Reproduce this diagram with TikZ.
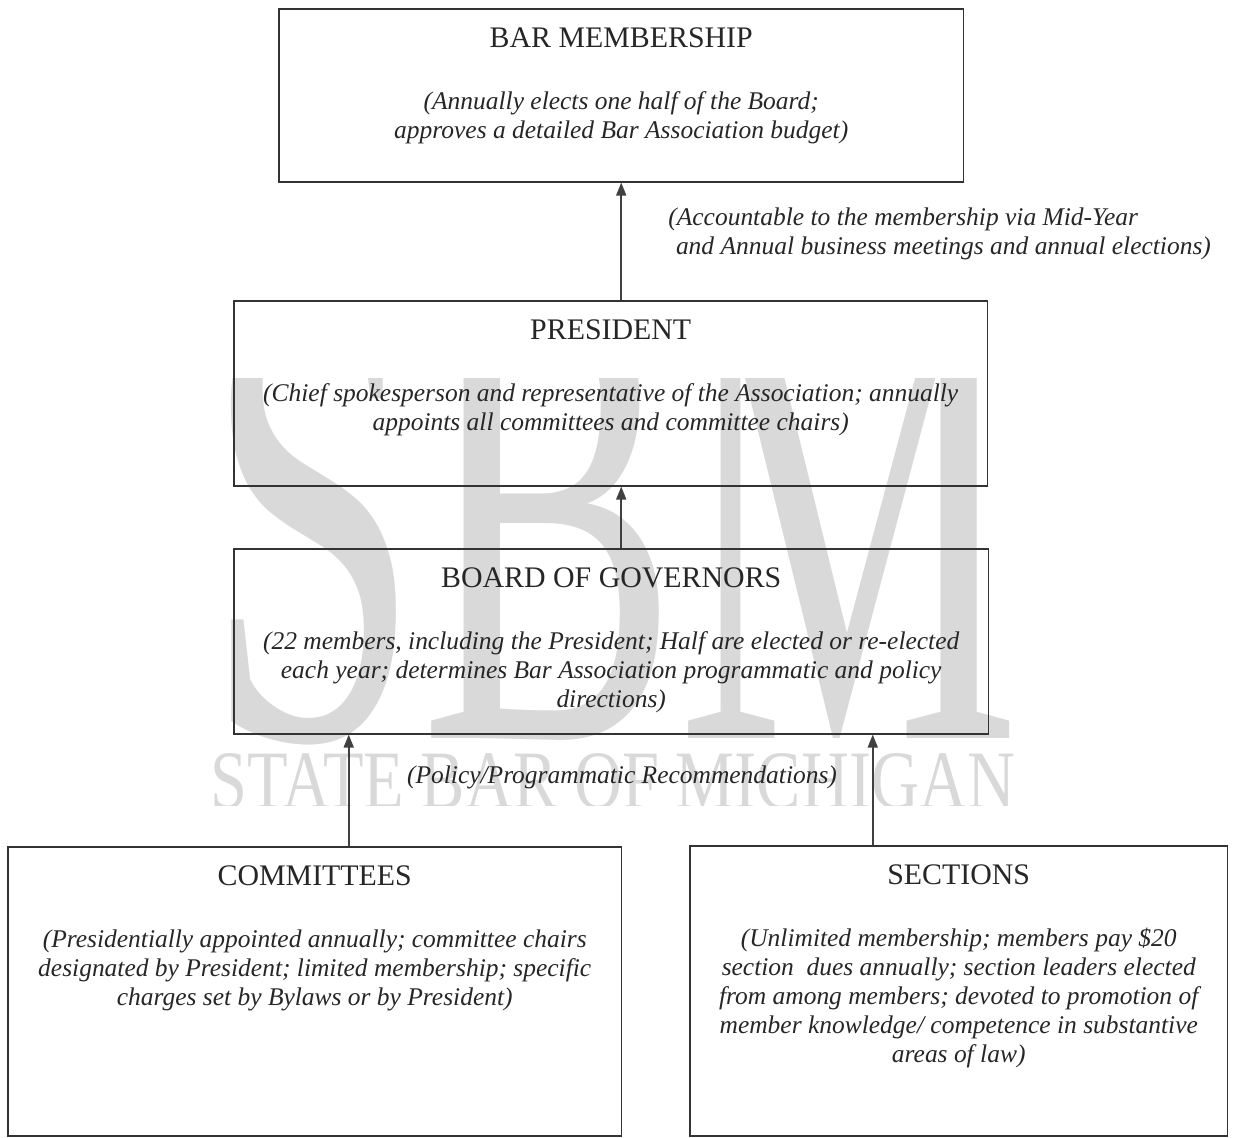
\documentclass[tikz,border=0pt]{standalone}
\usepackage{fontspec}
\setmainfont{Liberation Serif}
\usepackage{graphicx}
\usetikzlibrary{positioning,arrows.meta}

\newcommand{\ttlfont}{\fontsize{17}{20}\selectfont}
\newcommand{\descfont}{\fontsize{14.5}{16.5}\selectfont\itshape}
% box body: height, width, title, description
\newcommand{\orgbox}[4]{\parbox[c][#1][t]{#2}{\centering\vspace*{10.5pt}{\ttlfont #3\par}\vspace{19pt}{\descfont #4\par}}}

\begin{document}
\begin{tikzpicture}[
  x=0.02cm, y=-0.02cm,
  text=black!85,
  block/.style={draw=black!80, line width=0.9pt, inner sep=0pt, anchor=north west},
  arr/.style={-{Triangle[length=0.26cm, width=0.2cm]}, line width=0.9pt, draw=black!75},
  note/.style={font=\descfont, inner sep=0pt},
  wm/.style={text=black!15, inner sep=0pt, anchor=south west}
]
\useasboundingbox (0,0) rectangle (1233,1137);

% watermark
\begin{scope}
  \clip (205,378) rectangle (1020,805);
  \node[wm] (sbm) at (205,745) {\resizebox{16.3cm}{8.9cm}{SBM}};
  \node[wm] (sbmtag) at (210,810) {\resizebox{16.1cm}{1.1cm}{STATE BAR OF MICHIGAN}};
\end{scope}

% boxes
\node[block] (bar) at (278,8) {\orgbox{3.46cm}{13.7cm}{BAR MEMBERSHIP}
  {(Annually elects one half of the Board;\\ approves a detailed Bar Association budget)}};

\node[block] (pres) at (233,300) {\orgbox{3.7cm}{15.08cm}{PRESIDENT}
  {(Chief spokesperson and representative of the Association; annually\\ appoints all committees and committee chairs)}};

\node[block] (board) at (233,548) {\orgbox{3.7cm}{15.1cm}{BOARD OF GOVERNORS}
  {(22 members, including the President; Half are elected or re-elected\\ each year; determines Bar Association programmatic and policy\\ directions)}};

\node[block] (comm) at (7,846) {\orgbox{5.78cm}{12.28cm}{COMMITTEES}
  {(Presidentially appointed annually; committee chairs\\ designated by President; limited membership; specific\\ charges set by Bylaws or by President)}};

\node[block] (sect) at (689,845) {\orgbox{5.8cm}{10.76cm}{SECTIONS}
  {(Unlimited membership; members pay \$20\\ section\ \ dues annually; section leaders elected\\ from among members; devoted to promotion of\\ member knowledge/ competence in substantive\\ areas of law)}};

% labels
\node[note, anchor=north west, align=left] (acct) at (668,207)
  {(Accountable to the membership via Mid-Year\\ \hspace*{0.3em}and Annual business meetings and annual elections)};
\node[note, anchor=base] (recs) at (622,783) {(Policy/Programmatic Recommendations)};

% arrows
\draw[arr] (pres.north -| bar.south) -- (bar.south);
\draw[arr] (board.north -| bar.south) -- (pres.south -| bar.south);
\draw[arr] ([xshift=0.68cm]comm.north) -- ([xshift=0.68cm]comm.north |- board.south);
\draw[arr] ([xshift=-1.72cm]sect.north) -- ([xshift=-1.72cm]sect.north |- board.south);

\end{tikzpicture}
\end{document}
